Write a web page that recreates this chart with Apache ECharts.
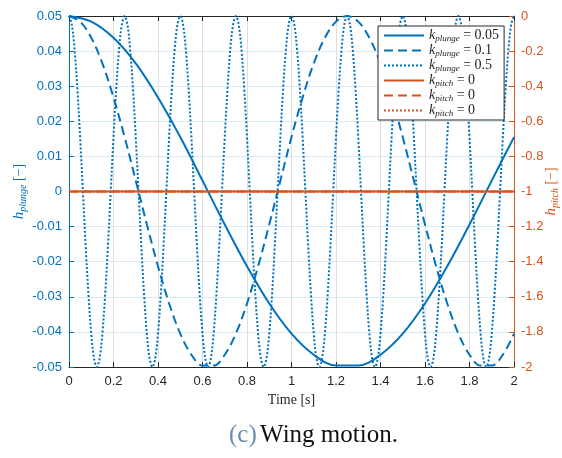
<!DOCTYPE html>
<html>
<head>
<meta charset="utf-8">
<script src="https://cdn.jsdelivr.net/npm/echarts@6/dist/echarts.min.js"></script>
<style>
  html, body { margin: 0; padding: 0; background: #ffffff; }
  #chart { width: 562px; height: 458px; }
</style>
</head>
<body>
<div id="chart"></div>
<script>
// Plunge displacement samples, k = 0.05 (time step 0.1 s)
const tSlow = [0, 0.1, 0.2, 0.3, 0.4, 0.5, 0.6, 0.7, 0.8, 0.9, 1.0,
  1.1, 1.2, 1.3, 1.4, 1.5, 1.6, 1.7, 1.8, 1.9, 2.0];
const hSlow = [0.05, 0.0484, 0.0438, 0.0365, 0.0268, 0.0155, 0.0031, -0.0094, -0.0213, -0.0319, -0.0405,
  -0.0465, -0.0496, -0.0496, -0.0465, -0.0405, -0.0319, -0.0213, -0.0094, 0.0031, 0.0155];

// Plunge displacement samples, k = 0.1 (time step 0.05 s)
const tMid = [0, 0.05, 0.1, 0.15, 0.2, 0.25, 0.3, 0.35, 0.4, 0.45, 0.5,
  0.55, 0.6, 0.65, 0.7, 0.75, 0.8, 0.85, 0.9, 0.95, 1.0,
  1.05, 1.1, 1.15, 1.2, 1.25, 1.3, 1.35, 1.4, 1.45, 1.5,
  1.55, 1.6, 1.65, 1.7, 1.75, 1.8, 1.85, 1.9, 1.95, 2.0];
const hMid = [0.05, 0.0484, 0.0438, 0.0365, 0.0268, 0.0155, 0.0031, -0.0094, -0.0213, -0.0319, -0.0405,
  -0.0465, -0.0496, -0.0496, -0.0465, -0.0405, -0.0319, -0.0213, -0.0094, 0.0031, 0.0155,
  0.0268, 0.0365, 0.0438, 0.0484, 0.05, 0.0484, 0.0438, 0.0365, 0.0268, 0.0155,
  0.0031, -0.0094, -0.0213, -0.0319, -0.0405, -0.0465, -0.0496, -0.0496, -0.0465, -0.0405];

// Plunge displacement samples, k = 0.5 (time step 0.0125 s)
const tFast = [0, 0.0125, 0.025, 0.0375, 0.05, 0.0625, 0.075, 0.0875, 0.1, 0.1125, 0.125, 0.1375, 0.15, 0.1625, 0.175, 0.1875, 0.2, 0.2125, 0.225, 0.2375,
  0.25, 0.2625, 0.275, 0.2875, 0.3, 0.3125, 0.325, 0.3375, 0.35, 0.3625, 0.375, 0.3875, 0.4, 0.4125, 0.425, 0.4375, 0.45, 0.4625, 0.475, 0.4875,
  0.5, 0.5125, 0.525, 0.5375, 0.55, 0.5625, 0.575, 0.5875, 0.6, 0.6125, 0.625, 0.6375, 0.65, 0.6625, 0.675, 0.6875, 0.7, 0.7125, 0.725, 0.7375,
  0.75, 0.7625, 0.775, 0.7875, 0.8, 0.8125, 0.825, 0.8375, 0.85, 0.8625, 0.875, 0.8875, 0.9, 0.9125, 0.925, 0.9375, 0.95, 0.9625, 0.975, 0.9875,
  1.0, 1.0125, 1.025, 1.0375, 1.05, 1.0625, 1.075, 1.0875, 1.1, 1.1125, 1.125, 1.1375, 1.15, 1.1625, 1.175, 1.1875, 1.2, 1.2125, 1.225, 1.2375,
  1.25, 1.2625, 1.275, 1.2875, 1.3, 1.3125, 1.325, 1.3375, 1.35, 1.3625, 1.375, 1.3875, 1.4, 1.4125, 1.425, 1.4375, 1.45, 1.4625, 1.475, 1.4875,
  1.5, 1.5125, 1.525, 1.5375, 1.55, 1.5625, 1.575, 1.5875, 1.6, 1.6125, 1.625, 1.6375, 1.65, 1.6625, 1.675, 1.6875, 1.7, 1.7125, 1.725, 1.7375,
  1.75, 1.7625, 1.775, 1.7875, 1.8, 1.8125, 1.825, 1.8375, 1.85, 1.8625, 1.875, 1.8875, 1.9, 1.9125, 1.925, 1.9375, 1.95, 1.9625, 1.975, 1.9875,
  2.0];
const hFast = [
  0.05, 0.0476, 0.0405, 0.0294, 0.0155, 0, -0.0155, -0.0294, -0.0405, -0.0476, -0.05, -0.0476, -0.0405, -0.0294, -0.0155, 0, 0.0155, 0.0294, 0.0405, 0.0476,
  0.05, 0.0476, 0.0405, 0.0294, 0.0155, 0, -0.0155, -0.0294, -0.0405, -0.0476, -0.05, -0.0476, -0.0405, -0.0294, -0.0155, 0, 0.0155, 0.0294, 0.0405, 0.0476,
  0.05, 0.0476, 0.0405, 0.0294, 0.0155, 0, -0.0155, -0.0294, -0.0405, -0.0476, -0.05, -0.0476, -0.0405, -0.0294, -0.0155, 0, 0.0155, 0.0294, 0.0405, 0.0476,
  0.05, 0.0476, 0.0405, 0.0294, 0.0155, 0, -0.0155, -0.0294, -0.0405, -0.0476, -0.05, -0.0476, -0.0405, -0.0294, -0.0155, 0, 0.0155, 0.0294, 0.0405, 0.0476,
  0.05, 0.0476, 0.0405, 0.0294, 0.0155, 0, -0.0155, -0.0294, -0.0405, -0.0476, -0.05, -0.0476, -0.0405, -0.0294, -0.0155, 0, 0.0155, 0.0294, 0.0405, 0.0476,
  0.05, 0.0476, 0.0405, 0.0294, 0.0155, 0, -0.0155, -0.0294, -0.0405, -0.0476, -0.05, -0.0476, -0.0405, -0.0294, -0.0155, 0, 0.0155, 0.0294, 0.0405, 0.0476,
  0.05, 0.0476, 0.0405, 0.0294, 0.0155, 0, -0.0155, -0.0294, -0.0405, -0.0476, -0.05, -0.0476, -0.0405, -0.0294, -0.0155, 0, 0.0155, 0.0294, 0.0405, 0.0476,
  0.05, 0.0476, 0.0405, 0.0294, 0.0155, 0, -0.0155, -0.0294, -0.0405, -0.0476, -0.05, -0.0476, -0.0405, -0.0294, -0.0155, 0, 0.0155, 0.0294, 0.0405, 0.0476,
  0.05];

// Pitch motion (zero amplitude), read on the right axis
const tPitch = [0, 2];
const hPitch = [-1, -1];

// Legend entries
const seriesKeys = ['plunge005', 'plunge01', 'plunge05', 'pitchA', 'pitchB', 'pitchC'];
const legendText = {
  plunge005: '{k|k}{sub|plunge}{eq| = 0.05}',
  plunge01: '{k|k}{sub|plunge}{eq| = 0.1}',
  plunge05: '{k|k}{sub|plunge}{eq| = 0.5}',
  pitchA: '{k|k}{sub|pitch}{eq| = 0}',
  pitchB: '{k|k}{sub|pitch}{eq| = 0}',
  pitchC: '{k|k}{sub|pitch}{eq| = 0}'
};

const BLUE = '#0072BD';
const ORANGE = '#D95319';
const INK = '#262626';
const SERIF = '"Liberation Serif", "DejaVu Serif", serif';
const SANS = '"Liberation Sans", Arial, sans-serif';

const zip = (xs, ys) => xs.map((x, i) => [x, ys[i]]);

const chart = echarts.init(document.getElementById('chart'), null, { renderer: 'canvas' });

const lineSeries = (name, xs, ys, color, type, yAxisIndex) => ({
  name: name,
  type: 'line',
  xAxisIndex: 0,
  yAxisIndex: yAxisIndex,
  data: zip(xs, ys),
  smooth: 0.35,
  showSymbol: false,
  symbol: 'none',
  animation: false,
  clip: true,
  lineStyle: { color: color, width: 2, type: type },
  itemStyle: { color: color }
});

chart.setOption({
  backgroundColor: '#ffffff',
  animation: false,
  grid: { left: 69, right: 48, top: 16, bottom: 91, containLabel: false, outerBoundsMode: 'none' },
  legend: {
    data: seriesKeys,
    orient: 'vertical',
    left: 378,
    top: 26,
    width: 125,
    padding: [2, 5, 2, 5],
    itemGap: 0,
    itemWidth: 40,
    itemHeight: 14,
    backgroundColor: '#ffffff',
    borderColor: '#262626',
    borderWidth: 1,
    borderRadius: 0,
    itemStyle: { opacity: 0 },
    formatter: (name) => legendText[name],
    textStyle: {
      color: INK,
      rich: {
        k: { fontFamily: SERIF, fontStyle: 'italic', fontSize: 14, color: INK, lineHeight: 15 },
        sub: { fontFamily: SERIF, fontStyle: 'italic', fontSize: 9, color: INK, padding: [6, 0, 0, 0], lineHeight: 9 },
        eq: { fontFamily: SERIF, fontSize: 14, color: INK, lineHeight: 15 }
      }
    }
  },
  xAxis: [
    {
      type: 'value', position: 'bottom', min: 0, max: 2, interval: 0.2,
      name: 'Time [s]', nameLocation: 'middle', nameGap: 26, nameMoveOverlap: false,
      nameTextStyle: { fontFamily: SERIF, fontSize: 14, color: INK },
      axisLine: { show: true, onZero: false, lineStyle: { color: INK, width: 1 } },
      axisTick: { show: true, inside: true, length: 5, lineStyle: { color: INK } },
      axisLabel: { fontFamily: SANS, fontSize: 13, color: INK, margin: 8 },
      splitLine: { show: true, lineStyle: { color: '#dedede', width: 1 } }
    },
    {
      type: 'value', position: 'top', min: 0, max: 2, interval: 0.2,
      axisLine: { show: true, onZero: false, lineStyle: { color: INK, width: 1 } },
      axisTick: { show: true, inside: true, length: 5, lineStyle: { color: INK } },
      axisLabel: { show: false },
      splitLine: { show: false }
    }
  ],
  yAxis: [
    {
      type: 'value', position: 'left', min: -0.05, max: 0.05, interval: 0.01,
      name: '{h|h}{sub|plunge}{u| [\u2212]}', nameLocation: 'middle', nameGap: 41, nameRotate: 90,
      nameMoveOverlap: false,
      nameTextStyle: {
        color: BLUE,
        rich: {
          h: { fontFamily: SERIF, fontStyle: 'italic', fontSize: 15, color: BLUE },
          sub: { fontFamily: SERIF, fontStyle: 'italic', fontSize: 10, color: BLUE, padding: [8, 0, 0, 0] },
          u: { fontFamily: SERIF, fontSize: 14, color: BLUE }
        }
      },
      axisLine: { show: true, onZero: false, lineStyle: { color: BLUE, width: 1 } },
      axisTick: { show: true, inside: true, length: 5, lineStyle: { color: BLUE } },
      axisLabel: { fontFamily: SANS, fontSize: 13, color: BLUE, margin: 7 },
      splitLine: { show: true, lineStyle: { color: '#d9eaf5', width: 1 } }
    },
    {
      type: 'value', position: 'right', min: -2, max: 0, interval: 0.2,
      name: '{h|h}{sub|pitch}{u| [\u2212]}', nameLocation: 'middle', nameGap: 28, nameRotate: 90,
      nameMoveOverlap: false,
      nameTextStyle: {
        color: ORANGE,
        rich: {
          h: { fontFamily: SERIF, fontStyle: 'italic', fontSize: 15, color: ORANGE },
          sub: { fontFamily: SERIF, fontStyle: 'italic', fontSize: 10, color: ORANGE, padding: [8, 0, 0, 0] },
          u: { fontFamily: SERIF, fontSize: 14, color: ORANGE }
        }
      },
      axisLine: { show: true, onZero: false, lineStyle: { color: ORANGE, width: 1 } },
      axisTick: { show: true, inside: true, length: 5, lineStyle: { color: ORANGE } },
      axisLabel: { fontFamily: SANS, fontSize: 13, color: ORANGE, margin: 7 },
      splitLine: { show: false }
    }
  ],
  series: [
    lineSeries('plunge005', tSlow, hSlow, BLUE, 'solid', 0),
    lineSeries('plunge01', tMid, hMid, BLUE, [9, 5], 0),
    lineSeries('plunge05', tFast, hFast, BLUE, [2, 2], 0),
    lineSeries('pitchA', tPitch, hPitch, ORANGE, 'solid', 1),
    lineSeries('pitchB', tPitch, hPitch, ORANGE, [9, 5], 1),
    lineSeries('pitchC', tPitch, hPitch, ORANGE, [2, 2], 1)
  ],
  graphic: [
    {
      type: 'text',
      left: 229,
      top: 423,
      style: {
        text: '{c|(c)} {t|Wing motion.}',
        rich: {
          c: { fontFamily: SERIF, fontSize: 25, fill: '#6a8cb0' },
          t: { fontFamily: SERIF, fontSize: 25, fill: '#111111' }
        }
      }
    }
  ]
});
</script>
</body>
</html>
